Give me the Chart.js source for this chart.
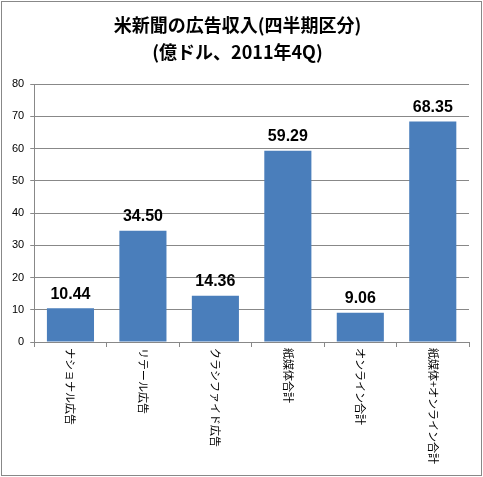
<!DOCTYPE html>
<html>
<head>
<meta charset="utf-8">
<script src="https://cdn.jsdelivr.net/npm/chart.js@4"></script>
<style>
  html, body { margin: 0; padding: 0; background: #fff; }
  #wrap { position: absolute; left: 1px; top: 1px; width: 479px; height: 473px; border: 1px solid #888; }
</style>
</head>
<body>
<div id="wrap"><canvas id="c"></canvas></div>
<script>
const categories = ['ナショナル広告', 'リテール広告', 'クラシファイド広告', '紙媒体合計', 'オンライン合計', '紙媒体+オンライン合計'];
const revenue = [10.44, 34.50, 14.36, 59.29, 9.06, 68.35];
const titleLines = ['米新聞の広告収入(四半期区分)', '(億ドル、2011年4Q)'];

// Value labels above bars, and category labels reading top-to-bottom
const customLabels = {
    id: 'customLabels',
    afterDatasetsDraw(chart) {
        const ctx = chart.ctx;
        const meta = chart.getDatasetMeta(0);
        const bottom = chart.chartArea.bottom;
        ctx.save();
        ctx.font = "bold 16px 'Liberation Sans', Arial, sans-serif";
        ctx.fillStyle = '#000';
        ctx.textAlign = 'center';
        ctx.textBaseline = 'bottom';
        meta.data.forEach((bar, i) => {
            ctx.fillText(revenue[i].toFixed(2), bar.x, bar.y - 6);
        });
        ctx.font = "11px 'Noto Sans CJK JP', sans-serif";
        ctx.textAlign = 'left';
        ctx.textBaseline = 'middle';
        meta.data.forEach((bar, i) => {
            ctx.save();
            ctx.translate(bar.x, bottom + 6);
            ctx.rotate(Math.PI / 2);
            ctx.fillText(categories[i], 0, 0);
            ctx.restore();
        });
        ctx.restore();
    }
};

new Chart(document.getElementById('c'), {
    type: 'bar',
    data: {
        labels: categories,
        datasets: [{
            data: revenue,
            backgroundColor: '#4a7ebb',
            barPercentage: 0.65,
            categoryPercentage: 1.0
        }]
    },
    options: {
        responsive: true,
        maintainAspectRatio: false,
        animation: false,
        layout: { padding: { left: 4, right: 12, top: 4, bottom: 128 } },
        plugins: {
            legend: { display: false },
            tooltip: { enabled: false },
            title: {
                display: true,
                text: titleLines,
                color: '#000',
                font: { size: 18, weight: 'bold', family: "'Noto Sans CJK JP', sans-serif", lineHeight: 1.5 },
                padding: { top: 6, bottom: 18 }
            }
        },
        scales: {
            y: {
                min: 0, max: 80,
                ticks: { stepSize: 10, color: '#000', font: { size: 11 }, padding: 6 },
                grid: { color: '#888', drawTicks: true, tickLength: 4 },
                border: { color: '#888' }
            },
            x: {
                ticks: { display: false },
                grid: { display: true, drawOnChartArea: false, color: '#888', tickLength: 5, offset: true },
                border: { color: '#888' }
            }
        }
    },
    plugins: [customLabels]
});
</script>
</body>
</html>
